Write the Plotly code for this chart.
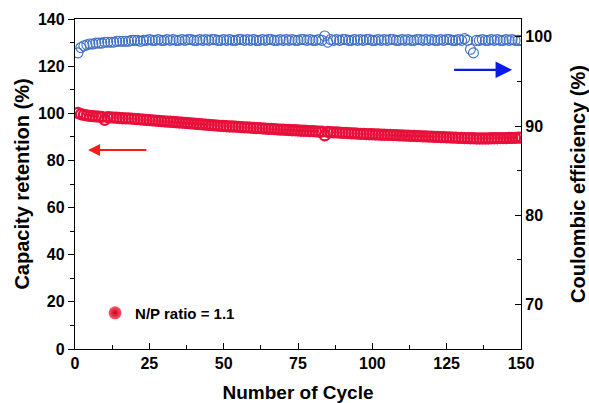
import plotly.graph_objects as go

cycles = list(range(1, 151))

capacity_retention = [
    100.2, 99.6, 99.3, 99.1, 98.9, 98.8, 98.7, 98.6, 98.5, 97.2,
    98.4, 98.3, 98.2, 98.1, 98.0, 97.9, 97.8, 97.8, 97.7, 97.6,
    97.5, 97.4, 97.3, 97.2, 97.1, 97.0, 96.9, 96.8, 96.7, 96.6,
    96.5, 96.4, 96.3, 96.2, 96.1, 96.0, 95.9, 95.8, 95.7, 95.6,
    95.5, 95.4, 95.3, 95.2, 95.1, 95.0, 94.9, 94.8, 94.7, 94.6,
    94.5, 94.4, 94.4, 94.3, 94.2, 94.1, 94.0, 94.0, 93.9, 93.8,
    93.7, 93.7, 93.6, 93.5, 93.4, 93.4, 93.3, 93.2, 93.1, 93.1,
    93.0, 92.9, 92.8, 92.8, 92.7, 92.6, 92.6, 92.5, 92.4, 92.4,
    92.3, 92.2, 92.2, 90.6, 92.1, 92.0, 91.9, 91.9, 91.8, 91.7,
    91.7, 91.6, 91.5, 91.5, 91.4, 91.3, 91.3, 91.2, 91.1, 91.1,
    91.0, 91.0, 90.9, 90.9, 90.8, 90.8, 90.7, 90.7, 90.6, 90.6,
    90.5, 90.5, 90.4, 90.4, 90.3, 90.3, 90.2, 90.2, 90.1, 90.1,
    90.0, 90.0, 89.9, 89.9, 89.8, 89.8, 89.7, 89.7, 89.6, 89.6,
    89.5, 89.5, 89.4, 89.4, 89.3, 89.3, 89.3, 89.3, 89.3, 89.4,
    89.4, 89.4, 89.5, 89.5, 89.5, 89.6, 89.6, 89.6, 89.7, 89.7,
]

coulombic_efficiency = [
    98.2, 98.8, 99.0, 99.1, 99.2, 99.2, 99.3, 99.3, 99.3, 99.4,
    99.4, 99.4, 99.4, 99.5, 99.5, 99.5, 99.5, 99.5, 99.6, 99.6,
    99.6, 99.5, 99.6, 99.6, 99.7, 99.6, 99.6, 99.7, 99.6, 99.6,
    99.7, 99.6, 99.7, 99.6, 99.6, 99.7, 99.6, 99.7, 99.7, 99.6,
    99.6, 99.7, 99.6, 99.7, 99.6, 99.7, 99.7, 99.6, 99.6, 99.7,
    99.6, 99.7, 99.6, 99.6, 99.7, 99.7, 99.6, 99.7, 99.6, 99.7,
    99.6, 99.6, 99.7, 99.6, 99.7, 99.7, 99.6, 99.6, 99.7, 99.6,
    99.7, 99.6, 99.7, 99.6, 99.6, 99.7, 99.7, 99.6, 99.7, 99.6,
    99.6, 99.7, 99.6, 100.1, 99.4, 99.7, 99.6, 99.7, 99.6, 99.7,
    99.7, 99.6, 99.6, 99.7, 99.6, 99.7, 99.6, 99.7, 99.7, 99.6,
    99.6, 99.7, 99.6, 99.7, 99.6, 99.7, 99.7, 99.6, 99.6, 99.7,
    99.6, 99.7, 99.6, 99.6, 99.7, 99.7, 99.6, 99.7, 99.6, 99.7,
    99.6, 99.6, 99.7, 99.6, 99.7, 99.7, 99.6, 99.6, 99.7, 99.6,
    99.8, 99.6, 98.6, 98.2, 99.6, 99.6, 99.7, 99.6, 99.6, 99.7,
    99.6, 99.7, 99.6, 99.6, 99.7, 99.6, 99.7, 99.6, 99.6, 99.6,
]

legend_label = "N/P ratio = 1.1"
x_title = "Number of Cycle"
y_title = "Capacity retention (%)"
y2_title = "Coulombic efficiency (%)"
x_ticks = [0, 25, 50, 75, 100, 125, 150]
y_ticks = [0, 20, 40, 60, 80, 100, 120, 140]
y2_ticks = [70, 80, 90, 100]

RED = "#E8103A"
BLUE = "#3D6FC2"
FONT = "Liberation Sans"

fig = go.Figure()

fig.add_trace(go.Scatter(
    x=cycles, y=capacity_retention, mode="markers",
    marker=dict(symbol="circle-open", size=10, color=RED, line=dict(width=2.3, color=RED)),
    showlegend=False, yaxis="y",
))

fig.add_trace(go.Scatter(
    x=cycles, y=coulombic_efficiency, mode="markers",
    marker=dict(symbol="circle-open", size=10, color=BLUE, line=dict(width=1.1, color=BLUE)),
    showlegend=False, yaxis="y2",
))

# legend entry (sphere-like marker)
fig.add_trace(go.Scatter(
    x=[None], y=[None], mode="markers", name=legend_label,
    marker=dict(symbol="circle", size=13, color="#FF5A6E",
                gradient=dict(type="radial", color="#C4001C"),
                line=dict(width=0)),
    showlegend=True, yaxis="y",
))

tickfont = dict(family=FONT, size=16, color="black", weight="bold")
xtitlefont = dict(family=FONT, size=19, color="black", weight="bold")
ytitlefont = dict(family=FONT, size=20, color="black", weight="bold")

fig.update_layout(
    width=589, height=403,
    margin=dict(l=75, r=68, t=19, b=54, autoexpand=False),
    plot_bgcolor="white", paper_bgcolor="white",
    xaxis=dict(
        range=[0, 150], tickvals=x_ticks, ticks="inside", ticklen=6, tickwidth=1.3,
        tickcolor="black", showline=True, linecolor="black", linewidth=1.3, mirror=True,
        showgrid=False, zeroline=False, tickfont=tickfont, automargin=False,
        minor=dict(dtick=12.5, tick0=0, ticks="inside", ticklen=4, tickwidth=1.2, tickcolor="black"),
        title=dict(text=x_title, font=xtitlefont, standoff=15),
    ),
    yaxis=dict(
        range=[0, 140], tickvals=y_ticks, ticks="outside", ticklen=6, tickwidth=1.3,
        tickcolor="black", showline=True, linecolor="black", linewidth=1.3,
        showgrid=False, zeroline=False, tickfont=tickfont, automargin=False,
        minor=dict(dtick=10, tick0=0, ticks="outside", ticklen=4, tickwidth=1.2, tickcolor="black"),
        title=dict(text=y_title, font=ytitlefont, standoff=2),
    ),
    yaxis2=dict(
        overlaying="y", side="right", range=[65, 102], tickvals=y2_ticks,
        ticks="inside", ticklen=6, tickwidth=1.3, tickcolor="black",
        showline=True, linecolor="black", linewidth=1.3, automargin=False,
        showgrid=False, zeroline=False, tickfont=tickfont,
        minor=dict(dtick=5, tick0=65, ticks="inside", ticklen=4, tickwidth=1.2, tickcolor="black"),
        title=dict(text=y2_title, font=ytitlefont, standoff=19),
    ),
    legend=dict(x=0.045, y=0.109, xanchor="left", yanchor="middle",
                bgcolor="rgba(0,0,0,0)", font=dict(family=FONT, size=15, color="black", weight="bold")),
    showlegend=True,
)

# direction arrows
fig.add_annotation(x=4.4, y=84.4, ax=24.5, ay=84.4, xref="x", yref="y", axref="x", ayref="y",
                   showarrow=True, arrowhead=2, arrowsize=1.2, arrowwidth=2, arrowcolor="#FF1A1A", text="")
fig.add_annotation(x=147, y=96.3, ax=127, ay=96.3, xref="x", yref="y2", axref="x", ayref="y2",
                   showarrow=True, arrowhead=2, arrowsize=1.5, arrowwidth=2.2, arrowcolor="#0A1AE6", text="")

fig.write_html("out.html", config={"displayModeBar": False},
               post_script="document.body.style.margin='0';document.body.style.padding='0';")
